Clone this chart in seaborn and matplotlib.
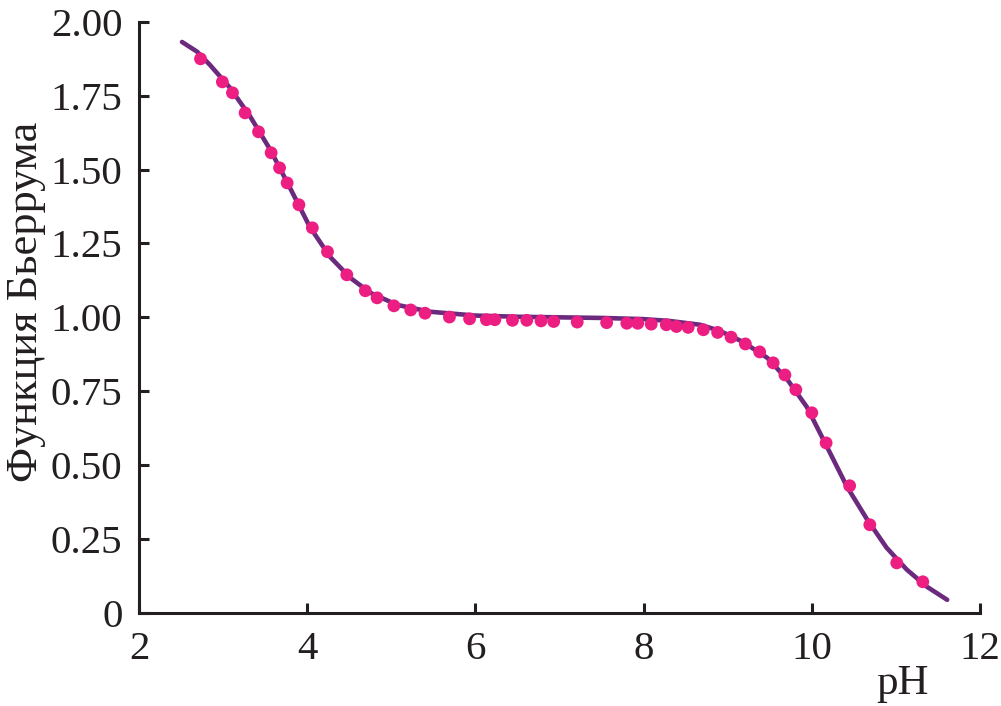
import matplotlib
matplotlib.use("Agg")
import matplotlib.pyplot as plt
import numpy as np
import pandas as pd
import seaborn as sns

# experimental points (pH, Bjerrum function)
ph_exp = [2.73, 2.99, 3.11, 3.26, 3.42, 3.57, 3.67, 3.76, 3.90, 4.06,
          4.24, 4.47, 4.69, 4.83, 5.03, 5.23, 5.40, 5.69, 5.93, 6.13,
          6.23, 6.44, 6.61, 6.78, 6.93, 7.21, 7.56, 7.80, 7.93, 8.09,
          8.27, 8.39, 8.53, 8.71, 8.88, 9.04, 9.21, 9.38, 9.54, 9.68,
          9.81, 10.00, 10.17, 10.45, 10.69, 11.01, 11.32]
n_exp = [1.875, 1.797, 1.760, 1.692, 1.628, 1.557, 1.506, 1.455, 1.381, 1.303,
         1.222, 1.144, 1.090, 1.066, 1.039, 1.025, 1.014, 1.001, 0.995, 0.992,
         0.992, 0.990, 0.990, 0.988, 0.986, 0.984, 0.982, 0.980, 0.980, 0.977,
         0.975, 0.969, 0.966, 0.958, 0.949, 0.933, 0.910, 0.883, 0.846, 0.805,
         0.755, 0.677, 0.575, 0.430, 0.298, 0.169, 0.105]

# fitted curve
ph_fit = [2.51, 2.69, 2.84, 3.08, 3.32, 3.56, 3.80, 4.03, 4.27, 4.51,
          4.75, 5.07, 5.46, 6.00, 6.50, 7.00, 7.50, 8.00, 8.30, 8.67,
          8.90, 9.18, 9.47, 9.71, 9.94, 10.18, 10.42, 10.66, 10.89, 11.13,
          11.37, 11.61]
n_fit = [1.932, 1.899, 1.855, 1.777, 1.680, 1.567, 1.435, 1.306, 1.205, 1.134,
         1.083, 1.042, 1.019, 1.006, 1.002, 1.000, 0.998, 0.994, 0.988, 0.975,
         0.955, 0.917, 0.863, 0.789, 0.697, 0.562, 0.426, 0.315, 0.220, 0.146,
         0.088, 0.044]

y_ticks = [0, 0.25, 0.5, 0.75, 1.0, 1.25, 1.5, 1.75, 2.0]
y_labels = ["0", "0.25", "0.50", "0.75", "1.00", "1.25", "1.50", "1.75", "2.00"]
x_ticks = [2, 4, 6, 8, 10, 12]

sns.set_style("ticks")
plt.rcParams["font.family"] = ["Liberation Serif", "DejaVu Serif"]

exp_df = pd.DataFrame({"pH": ph_exp, "n": n_exp})
fit_df = pd.DataFrame({"pH": ph_fit, "n": n_fit})

fig = plt.figure(figsize=(10.01, 7.06), dpi=100)
ax = fig.add_axes([0.139, 0.132, 0.840, 0.837])

sns.lineplot(data=fit_df, x="pH", y="n", ax=ax, color="#6B2A7E", linewidth=3.3, sort=False)
sns.scatterplot(data=exp_df, x="pH", y="n", ax=ax, color="#EC1E82", s=85, edgecolor="none", zorder=3)

ax.set_xlim(2, 12)
ax.set_ylim(0, 2.0)
ax.set_xticks(x_ticks)
ax.set_yticks(y_ticks)
ax.set_yticklabels(y_labels)

for side in ["top", "right"]:
    ax.spines[side].set_visible(False)
for side in ["left", "bottom"]:
    ax.spines[side].set_linewidth(2.2)
    ax.spines[side].set_color("#231F20")

ax.tick_params(direction="in", length=7, width=2.2, color="#231F20",
               labelsize=29.5, labelcolor="#231F20")
ax.tick_params(axis="y", pad=12)
ax.tick_params(axis="x", pad=13)

ax.set_xlabel("pH", fontsize=31, color="#231F20")
ax.xaxis.set_label_coords(0.908, -0.088)
ax.set_ylabel("Функция Бьеррума", fontsize=32, color="#231F20")
ax.yaxis.set_label_coords(-0.111, 0.526)

fig.savefig("out.png", dpi=100)
